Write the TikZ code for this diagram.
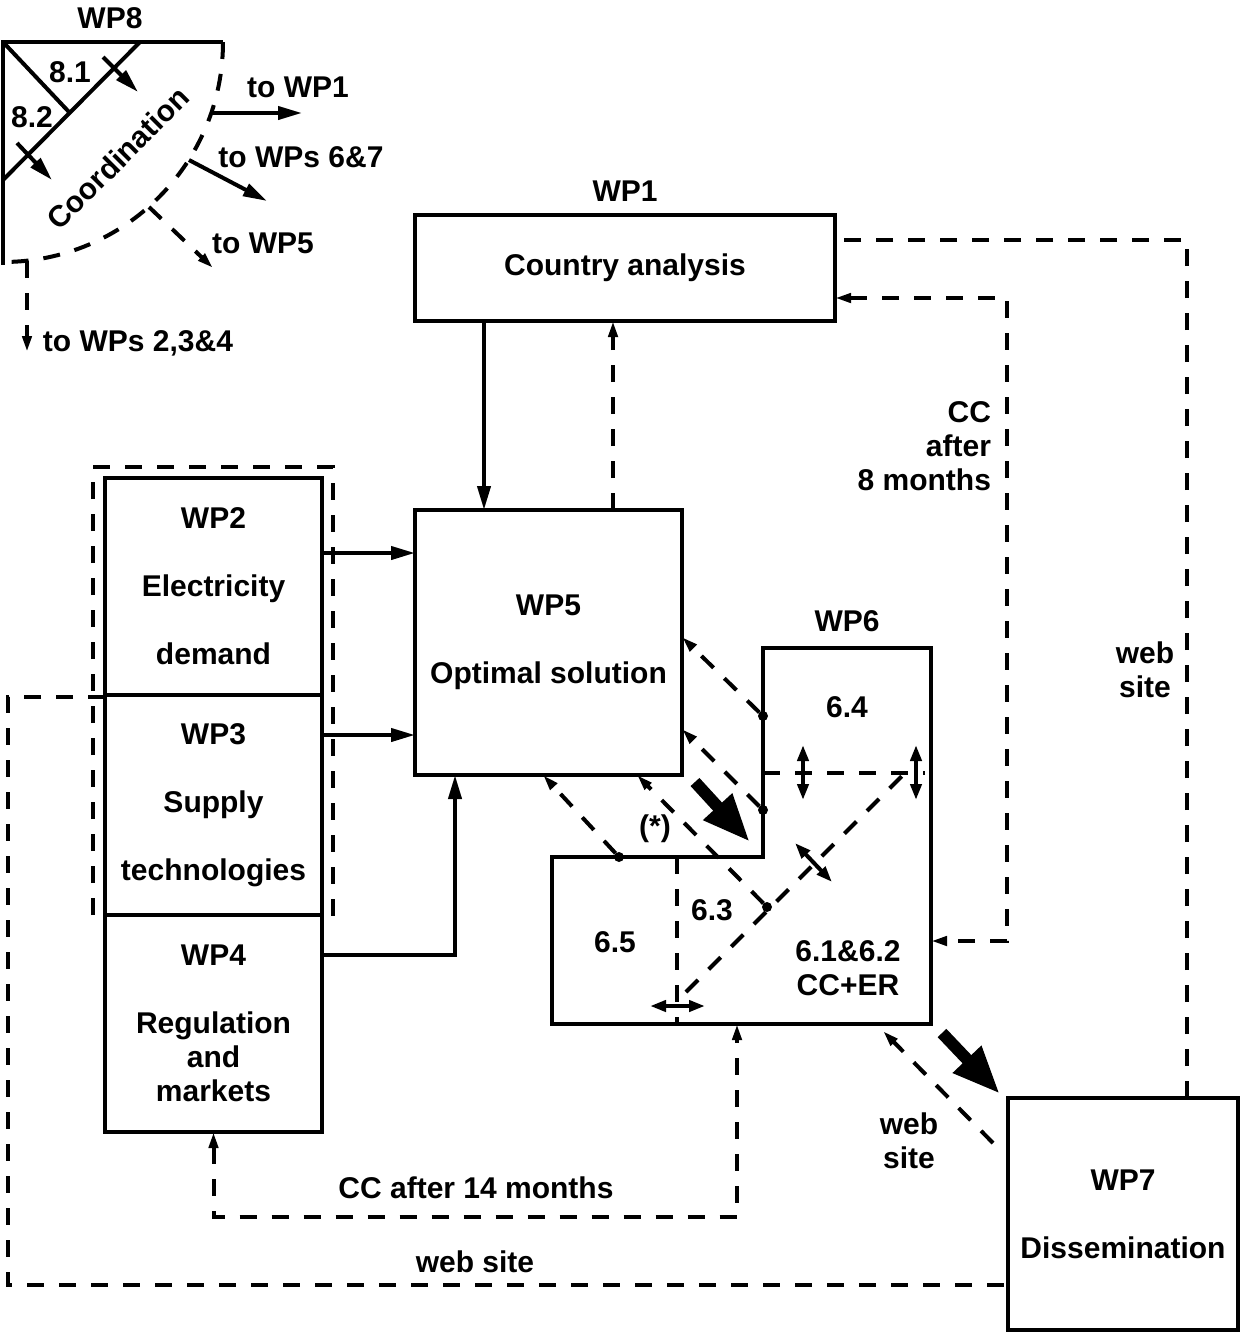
\documentclass[tikz,border=0pt]{standalone}
\usepackage{fontspec}
\setmainfont{Liberation Sans}
\usetikzlibrary{arrows.meta,positioning}

\begin{document}
\begin{tikzpicture}[x=0.5pt,y=-0.5pt, every node/.style={font=\bfseries\fontsize{15}{17}\selectfont,inner sep=0pt,outer sep=0pt,align=center}, box/.style={draw,line width=2.2pt}, arr/.style={-{Triangle[length=12pt,width=6.5pt]},line width=2pt}, dline/.style={line width=2pt,dash pattern=on 8.5pt off 7.5pt}, darr/.style={dline,-{Triangle[length=8pt,width=4.5pt]}}, dbiarr/.style={dline,{Triangle[length=8pt,width=4.5pt]}-{Triangle[length=8pt,width=4.5pt]}}, biarr/.style={{Triangle[length=8pt,width=5.5pt]}-{Triangle[length=8pt,width=5.5pt]},line width=2pt}, fat/.style={-{Triangle[length=24pt,width=18pt]},line width=6pt}, pdot/.style={circle,fill,minimum size=5pt}]
\useasboundingbox (0,0) rectangle (1241,1333);
\node (wp8t) at (110,18) {WP8};
\draw[line width=2.2pt] (223,42) -- (3,42) -- (3,265);
\draw[dline] (223,42) arc[start angle=0,end angle=-90,radius=110pt];
\draw[line width=2pt] (3,42) -- (69,112); \draw[line width=2pt] (140,42) -- (3,180);
\node (s81) at (70,72) {8.1}; \node (s82) at (32,117) {8.2};
\node[rotate=45] (coord) at (118,158) {Coordination};
\draw[arr] (103,57) -- (138,92); \draw[arr] (17,143) -- (52,180);
\draw[arr] (211,113) -- (302,113); \node (t1) at (298,87) {to WP1};
\draw[arr] (189,160) -- (267,201); \node (t67) at (301,157) {to WPs 6\&7};
\draw[darr] (149,207) -- (213,268); \node (t5) at (263,243) {to WP5};
\draw[darr] (27,261) -- (27,352); \node (t234) at (138,343) {to WPs 2,3\&4};
\node[box,minimum width=210pt,minimum height=53pt] (wp1) at (625,268) {Country analysis};
\node[above=7pt of wp1] (wp1t) {WP1};
\node[box,minimum width=133.5pt,minimum height=132.5pt] (wp5) at (548.5,642.5) {WP5\\[17pt]Optimal solution};
\node[box,minimum width=108.5pt,minimum height=108.5pt] (wp2) at (213.5,586.5) {WP2\\[17pt]Electricity\\[17pt]demand};
\node[box,minimum width=108.5pt,minimum height=110pt,below=0pt of wp2] (wp3) {WP3\\[17pt]Supply\\[17pt]technologies};
\node[box,minimum width=108.5pt,minimum height=108.5pt,below=0pt of wp3] (wp4) {WP4\\[17pt]Regulation\\and\\markets};
\node[box,minimum width=115pt,minimum height=116pt] (wp7) at (1123,1214) {WP7\\[17pt]Dissemination};
\draw[dline] (93,915) -- (93,467) -- (333,467) -- (333,925);
\coordinate (a15) at ([xshift=-32.25pt]wp5.north); \coordinate (a51) at ([xshift=32.25pt]wp5.north);
\draw[arr] (a15 |- wp1.south) -- (a15); \draw[darr] (a51) -- (a51 |- wp1.south);
\coordinate (a25) at ([yshift=16.75pt]wp2.east); \coordinate (a35) at ([yshift=35pt]wp3.east);
\coordinate (a4) at ([yshift=34.25pt]wp4.east); \coordinate (a45) at ([xshift=-46.75pt]wp5.south);
\draw[arr] (a25) -- (a25 -| wp5.west); \draw[arr] (a35) -- (a35 -| wp5.west); \draw[arr] (a4) -| (a45);
\coordinate (w6a) at (763,648); \coordinate (w6b) at (931,648); \coordinate (w6c) at (931,1024);
\coordinate (w6d) at (552,1024); \coordinate (w6e) at (552,857); \coordinate (w6f) at (763,857);
\draw[line width=2.2pt] (w6a) -- (w6b) -- (w6c) -- (w6d) -- (w6e) -- (w6f) -- cycle;
\node (wp6t) at (847,621) {WP6};
\draw[dline] (763,773) -- (925,773); \draw[dline] (677,857) -- (677,1024); \draw[dline] (686,992) -- (905,773);
\draw[biarr] (803,745) -- (803,800); \draw[biarr] (916,745) -- (916,800);
\draw[biarr] (795,843) -- (832,882); \draw[biarr] (650,1006) -- (705,1006);
\node (s64) at (847,707) {6.4}; \node (s63) at (712,910) {6.3}; \node (s65) at (615,942) {6.5};
\node (s61) at (848,968) {6.1\&6.2\\CC+ER}; \node (star) at (655,829) {(*)};
\node[pdot] (d1) at (763,716) {}; \node[pdot] (d2) at (763,810) {};
\node[pdot] (d3) at (619,857) {}; \node[pdot] (d4) at (767,907) {};
\draw[darr] (d1) -- ([yshift=2.75pt]wp5.east); \draw[darr] (d2) -- ([yshift=-43.25pt]wp5.east);
\draw[darr] (d3) -- ([xshift=-2.75pt]wp5.south); \draw[darr] (d4) -- ([xshift=44.25pt]wp5.south);
\coordinate (f1) at (695,782); \coordinate (f2) at (750,842); \draw[fat] (f1) -- (f2);
\coordinate (f3) at (942,1033); \coordinate (f4) at (1000,1094); \draw[fat] (f3) -- (f4);
\coordinate (ws7) at (993,1143); \coordinate (ws6) at (883,1031); \draw[darr] (ws7) -- (ws6);
\node (web1) at (909,1141) {web\\site};
\coordinate (w7t) at ([xshift=32pt]wp7.north); \coordinate (w1r) at ([yshift=14pt]wp1.east);
\draw[dline] (w7t) |- (w1r); \node (web2) at (1145,670) {web\\site};
\coordinate (w1r2) at ([yshift=-15pt]wp1.east); \coordinate (w6r) at (931,941);
\draw[dbiarr] (w1r2) -- ++(86pt,0) |- (w6r);
\node[anchor=east,align=right] (cc8) at (991,446) {CC\\after\\8 months};
\coordinate (w6bt) at (737,1024);
\draw[dbiarr] (wp4.south) -- ++(0,-42.5pt) -| (w6bt); \node (cc14) at (476,1188) {CC after 14 months};
\coordinate (w7l) at ([yshift=-35.5pt]wp7.west);
\draw[dline] ([yshift=-1pt]wp2.south west) -- ++(-48.5pt,0) |- (w7l); \node (web3) at (475,1262) {web site};
\end{tikzpicture}
\end{document}
